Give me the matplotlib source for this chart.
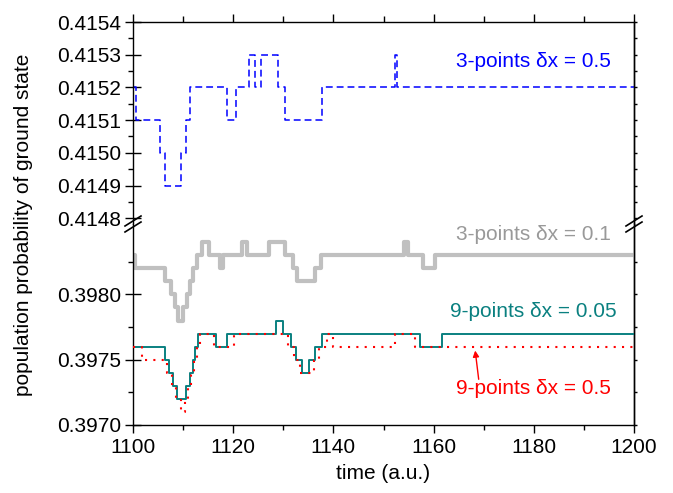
import matplotlib
matplotlib.use("Agg")
import matplotlib.pyplot as plt
from matplotlib.ticker import FixedLocator, MultipleLocator, FormatStrFormatter
from matplotlib.lines import Line2D

plt.rcParams['font.family'] = ['Liberation Sans', 'DejaVu Sans']

# ---------------- data ----------------
t_blue = [1100, 1100.6, 1105.3, 1106.4, 1109.5, 1110.5, 1111.4, 1118.7, 1120.6, 1123.2,
          1124.4, 1125.5, 1128.9, 1130.3, 1137.7, 1152.3, 1152.6, 1200]
v_blue = [0.4152, 0.4151, 0.4150, 0.4149, 0.4150, 0.4151, 0.4152, 0.4151, 0.4152, 0.4153,
          0.4152, 0.4153, 0.4152, 0.4151, 0.4152, 0.4153, 0.4152, 0.4152]

t_gray = [1100, 1100.4, 1106.4, 1107.5, 1108.4, 1109.0, 1110.0, 1110.8, 1111.4, 1112.0,
          1112.7, 1113.7, 1115.2, 1117.4, 1117.9, 1121.8, 1122.8, 1127.2, 1130.3, 1131.9,
          1132.8, 1136.3, 1137.5, 1154.1, 1154.8, 1157.8, 1160.3, 1200]
v_gray = [0.3983, 0.3982, 0.3981, 0.3980, 0.3979, 0.3978, 0.3979, 0.3980, 0.3981, 0.3982,
          0.3983, 0.3984, 0.3983, 0.3982, 0.3983, 0.3984, 0.3983, 0.3984, 0.3983, 0.3982,
          0.3981, 0.3982, 0.3983, 0.3984, 0.3983, 0.3982, 0.3983, 0.3983]

t_teal = [1100, 1106.3, 1107.2, 1108.0, 1108.7, 1110.6, 1111.4, 1111.9, 1112.4, 1113.0,
          1116.5, 1118.8, 1128.5, 1130.0, 1131.5, 1132.5, 1133.8, 1135.1, 1136.4, 1137.8,
          1157.2, 1161.7, 1200]
v_teal = [0.3976, 0.3975, 0.3974, 0.3973, 0.3972, 0.3973, 0.3974, 0.3975, 0.3976, 0.3977,
          0.3976, 0.3977, 0.3978, 0.3977, 0.3976, 0.3975, 0.3974, 0.3975, 0.3976, 0.3977,
          0.3976, 0.3977, 0.3977]

t_red = [1100, 1101.7, 1106.7, 1107.7, 1108.5, 1109.6, 1110.3, 1111.0, 1111.6, 1112.2,
         1112.8, 1113.4, 1116.2, 1120.2, 1131.0, 1132.2, 1133.3, 1136.1, 1137.2, 1138.7,
         1140.0, 1152.3, 1156.3, 1200]
v_red = [0.3976, 0.3975, 0.3974, 0.3973, 0.3972, 0.3971, 0.3972, 0.3973, 0.3974, 0.3975,
         0.3976, 0.3977, 0.3976, 0.3977, 0.3976, 0.3975, 0.3974, 0.3975, 0.3976, 0.3977,
         0.3976, 0.3977, 0.3976, 0.3976]

labels = ["3-points \u03b4x = 0.5", "3-points \u03b4x = 0.1",
          "9-points \u03b4x = 0.05", "9-points \u03b4x = 0.5"]
top_ticks = [0.4148, 0.4149, 0.4150, 0.4151, 0.4152, 0.4153, 0.4154]
bot_ticks = [0.3970, 0.3975, 0.3980]
x_ticks = [1100, 1120, 1140, 1160, 1180, 1200]

# ---------------- figure ----------------
W, H = 673, 493
fig = plt.figure(figsize=(W / 100, H / 100), dpi=100)

def fx(px):
    return px / W

def fy(py):
    return 1 - py / H

left, right = 133, 634
y_top, y_mid, y_bot = 22, 224, 425
ax_t = fig.add_axes([fx(left), fy(y_mid), fx(right - left), (y_mid - y_top) / H])
ax_b = fig.add_axes([fx(left), fy(y_bot), fx(right - left), (y_bot - y_mid) / H])

FS = 15
lw_sp = 1.0

# lines
ax_t.step(t_blue, v_blue, where='post', color='#0000ff', lw=1.1, linestyle=(0, (4.5, 2.6)))
ax_b.step(t_gray, v_gray, where='post', color='#c0c0c0', lw=3.0, zorder=2)
ax_b.step(t_teal, v_teal, where='post', color='#0a8080', lw=1.4, zorder=3)
ax_b.step(t_red, v_red, where='post', color='#ff0000', lw=1.5, linestyle=(0, (1, 3)), zorder=4)

# limits
top_px = 327.0  # px per 0.001 (top panel)
bot_px = 130.6  # px per 0.001 (bottom panel)
ax_t.set_xlim(1100, 1200)
ax_b.set_xlim(1100, 1200)
ax_t.set_ylim(0.4154 - (y_mid - y_top) / top_px * 0.001, 0.4154)
ax_b.set_ylim(0.3970, 0.3970 + (y_bot - y_mid) / bot_px * 0.001)

for ax in (ax_t, ax_b):
    for s in ax.spines.values():
        s.set_linewidth(lw_sp)
ax_t.spines['bottom'].set_visible(False)
ax_b.spines['top'].set_visible(False)

# y ticks
ax_t.yaxis.set_major_locator(FixedLocator(top_ticks))
ax_t.yaxis.set_minor_locator(FixedLocator([v + 0.00005 for v in top_ticks[:-1]]))
ax_b.yaxis.set_major_locator(FixedLocator(bot_ticks))
ax_b.yaxis.set_minor_locator(FixedLocator([0.39725, 0.39775, 0.39825]))
for ax in (ax_t, ax_b):
    ax.yaxis.set_major_formatter(FormatStrFormatter('%.4f'))
    ax.tick_params(axis='y', which='major', direction='inout', length=11.5, width=lw_sp,
                   labelsize=FS, pad=3, left=True, right=False)
    ax.tick_params(axis='y', which='minor', direction='out', length=3.6, width=lw_sp,
                   left=True, right=False)
    ax.xaxis.set_major_locator(FixedLocator(x_ticks))
    ax.xaxis.set_minor_locator(MultipleLocator(10))
    sec = ax.secondary_yaxis('right')
    sec.yaxis.set_major_locator(FixedLocator(ax.yaxis.get_majorticklocs()))
    sec.yaxis.set_minor_locator(FixedLocator(ax.yaxis.get_minorticklocs()))
    sec.tick_params(which='both', direction='out', length=2, width=lw_sp, labelright=False)
    sec.spines['right'].set_linewidth(lw_sp)

# x ticks
ax_t.tick_params(axis='x', which='major', top=True, bottom=False, labeltop=False,
                 labelbottom=False, direction='out', length=6, width=lw_sp)
ax_t.tick_params(axis='x', which='minor', top=True, bottom=False, direction='out',
                 length=4, width=lw_sp)
ax_b.tick_params(axis='x', which='major', top=False, bottom=True, direction='out',
                 length=5.5, width=lw_sp, labelsize=FS, pad=4)
ax_b.tick_params(axis='x', which='minor', top=False, bottom=True, direction='out',
                 length=3.6, width=lw_sp)

# labels
ax_b.set_xlabel("time (a.u.)", fontsize=FS, labelpad=5)
fig.text(fx(24), fy(225), "population probability of ground state", rotation=90,
         ha='center', va='center', fontsize=FS)

ax_t.text(1180, 0.415278, labels[0], color='#0000ff', fontsize=FS, ha='center', va='center')
ax_b.text(1180, 0.398455, labels[1], color='#999999', fontsize=FS, ha='center', va='center')
ax_b.text(1180, 0.397868, labels[2], color='#0a8080', fontsize=FS, ha='center', va='center')
ax_b.text(1180, 0.397281, labels[3], color='#ff0000', fontsize=FS, ha='center', va='center')
ax_b.annotate('', xy=(1168.3, 0.39757), xytext=(1169.0, 0.39735),
              arrowprops=dict(arrowstyle='-|>', color='#ff0000', lw=1.0, mutation_scale=9,
                              shrinkA=0, shrinkB=0))

# break marks
for xc in (left, right):
    for dy in (-3, 3):
        fig.add_artist(Line2D([fx(xc - 8), fx(xc + 8)], [fy(y_mid + dy + 5), fy(y_mid + dy - 5)],
                              color='black', lw=1.2))

fig.savefig("out.png", dpi=100)
